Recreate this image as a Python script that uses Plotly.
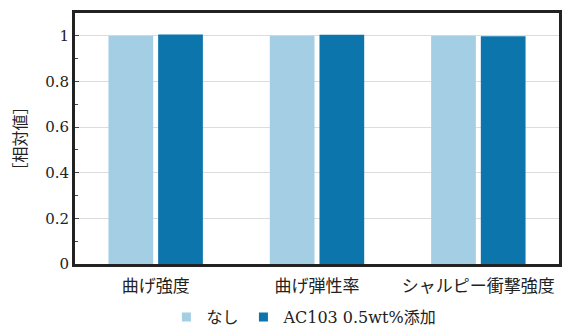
import plotly.graph_objects as go

categories = ["曲げ強度", "曲げ弾性率", "シャルピー衝撃強度"]
series_names = ["なし", "AC103 0.5wt%添加"]
series_colors = ["#A4CEE4", "#0B75AC"]
values_none = [1.0, 1.0, 1.0]
values_ac103 = [1.006, 1.005, 0.998]
ytick_vals = [0, 0.2, 0.4, 0.6, 0.8, 1]
ytick_text = ["0", "0.2", "0.4", "0.6", "0.8", "1"]

font_fam = "DejaVu Serif, Noto Sans CJK JP, serif"

fig = go.Figure()
for name, vals, col in zip(series_names, [values_none, values_ac103], series_colors):
    fig.add_trace(go.Bar(x=categories, y=vals, name=name, showlegend=False,
                         marker=dict(color=col, line=dict(width=0))))
for name, col in zip(series_names, series_colors):
    fig.add_trace(go.Scatter(x=[None], y=[None], mode="markers", name=name,
                             marker=dict(symbol="square", size=9, color=col)))

fig.update_layout(
    width=564, height=327,
    margin=dict(l=75, r=2, t=13, b=63),
    paper_bgcolor="white", plot_bgcolor="white",
    barmode="group", bargap=0.384, bargroupgap=0.1,
    font=dict(family=font_fam, size=15, color="#222"),
    showlegend=True,
    legend=dict(orientation="h", x=0.474, xanchor="center", yref="container",
                y=0.03, yanchor="middle",
                font=dict(size=16), itemwidth=30, traceorder="normal"),
    xaxis=dict(showline=True, linecolor="#222", linewidth=3, mirror=True,
               ticks="", tickfont=dict(size=17), ticklabelstandoff=5),
    yaxis=dict(range=[0, 1.1], tickvals=ytick_vals, ticktext=ytick_text,
               showgrid=True, gridcolor="#dcdcdc", gridwidth=1,
               showline=True, linecolor="#222", linewidth=3, mirror=True,
               ticks="inside", ticklen=4, tickcolor="#444",
               minor=dict(dtick=0.1, ticks="inside", ticklen=3, tickcolor="#444", showgrid=False),
               zeroline=False, tickfont=dict(size=15),
               title=dict(text="［相対値］", font=dict(size=16), standoff=15)),
)

fig.write_html("out.html")
